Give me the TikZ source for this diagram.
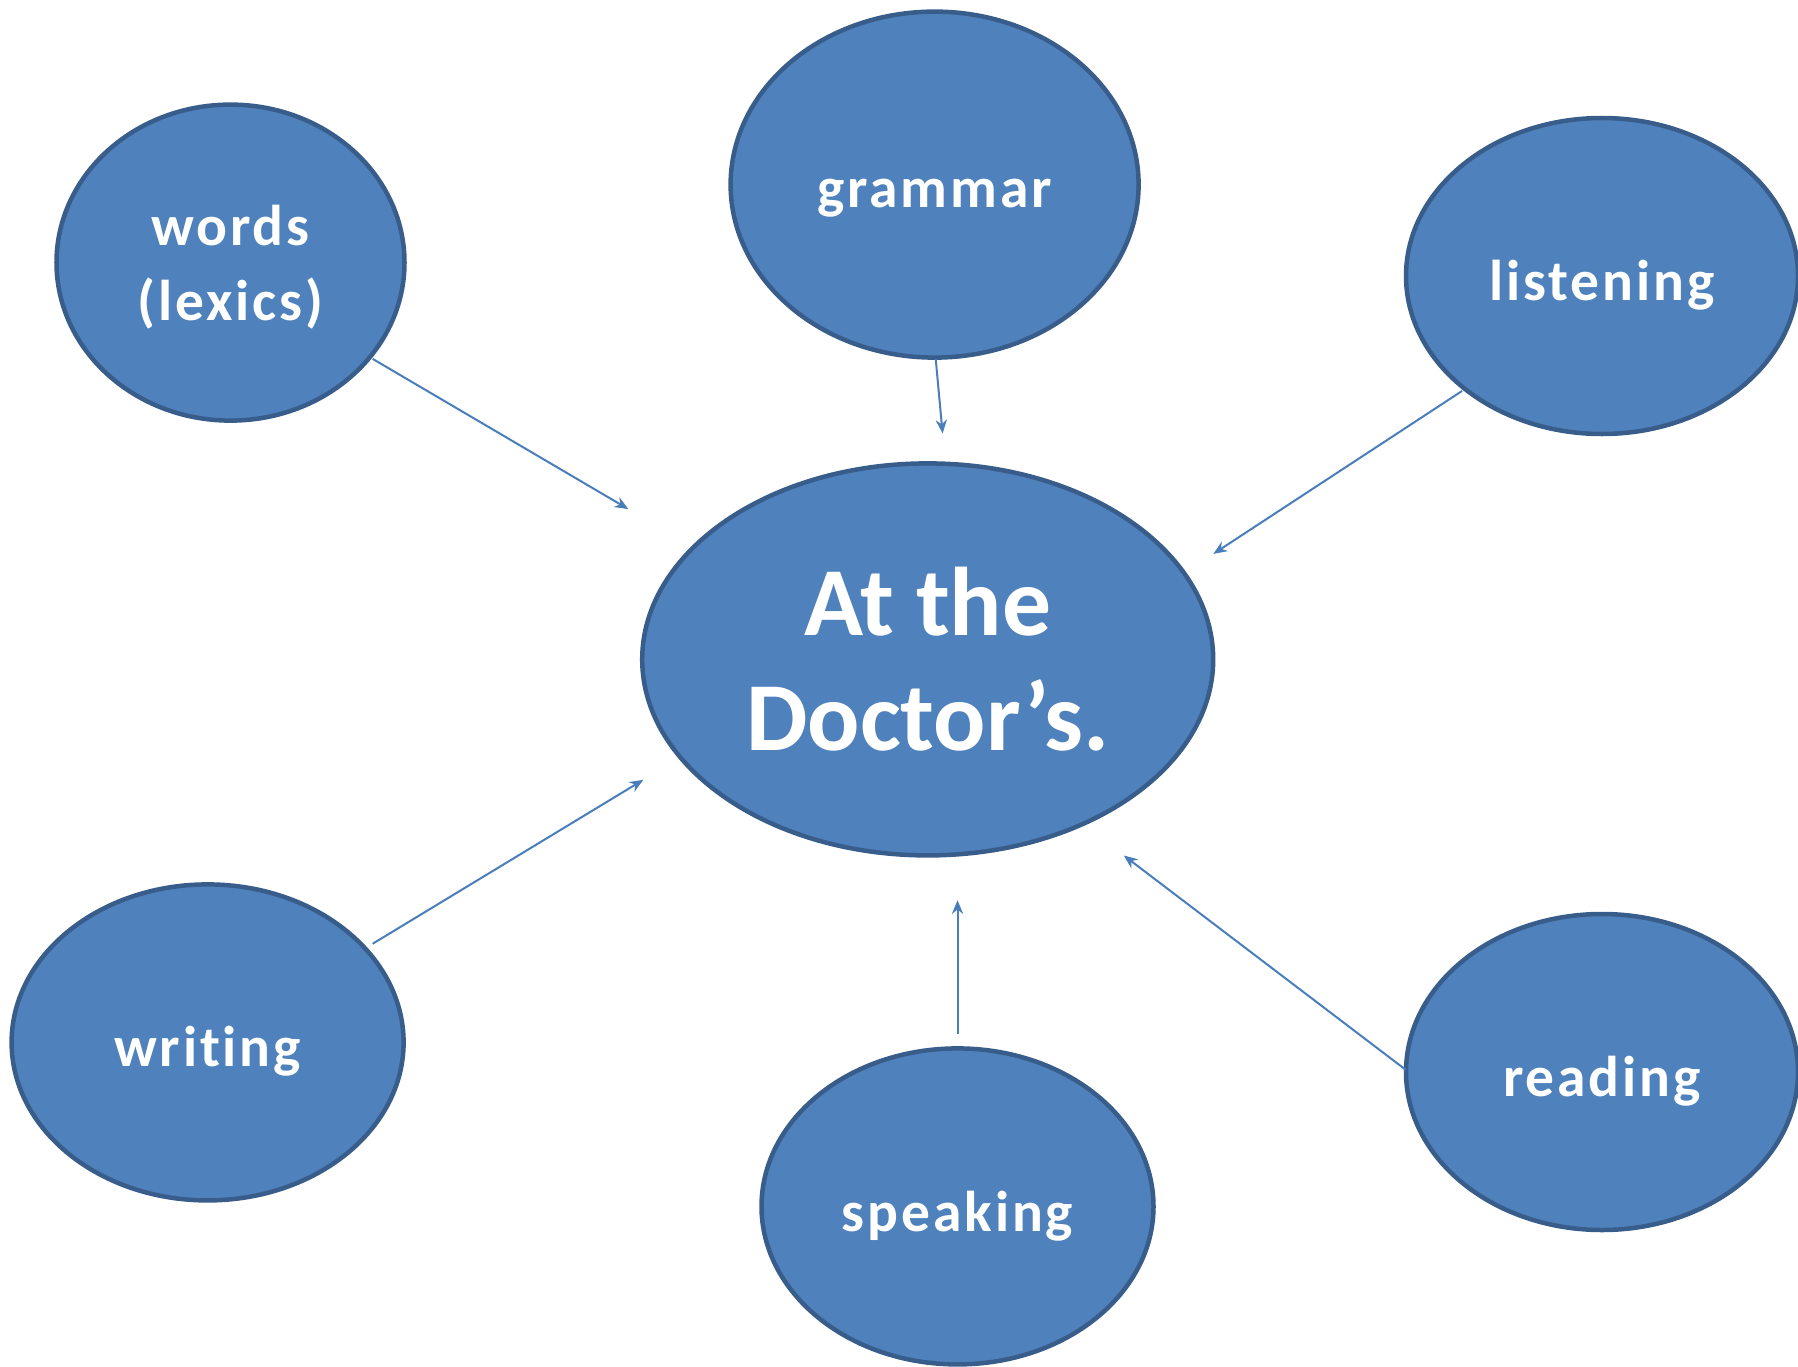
\documentclass[tikz,border=0pt]{standalone}
\usepackage{fontspec}
\setmainfont{Carlito}[Ligatures=NoCommon]
\newfontfamily\spacedfont{Carlito}[Ligatures=NoCommon,LetterSpace=5]
\usetikzlibrary{shapes.geometric,arrows.meta}
\definecolor{bubblefill}{HTML}{4F81BD}
\definecolor{bubbleline}{HTML}{385D8A}
\definecolor{arrowcol}{HTML}{4A7EBB}
\newcommand{\lowerby}[2]{\raisebox{-#1}[\height][\depth]{#2}}
\tikzset{
  bubble/.style={ellipse, draw=bubbleline, fill=bubblefill, line width=1.8pt, inner sep=0pt,
    text=white, font=\spacedfont\bfseries\fontsize{23}{30}\selectfont, align=center},
  link/.style={draw=arrowcol, line width=0.8pt, -{Stealth[length=5.5pt,width=4.5pt]}}
}
\begin{document}
\begin{tikzpicture}[x=0.4pt,y=-0.4pt]
\useasboundingbox (0,0) rectangle (1798,1366);
\node[bubble, minimum width=139.2pt, minimum height=126.4pt] (words) at (230.5,262.6) {\lowerby{2pt}{words}\\\lowerby{2pt}{(lexics)}};
\node[bubble, minimum width=163.2pt, minimum height=138.4pt] (grammar) at (934.6,184.6) {\lowerby{5.6pt}{grammar}};
\node[bubble, minimum width=156.8pt, minimum height=126.4pt] (listening) at (1602,276) {\lowerby{3.5pt}{listening}};
\node[bubble, minimum width=228.4pt, minimum height=156.8pt, font=\bfseries\fontsize{39}{46}\selectfont] (center) at (927.7,659.4) {At the\\Doctor’s.};
\node[bubble, minimum width=156.8pt, minimum height=126.4pt] (writing) at (207.6,1042.4) {\lowerby{3.5pt}{writing}};
\node[bubble, minimum width=156.8pt, minimum height=126.4pt] (speaking) at (957.5,1206.4) {\lowerby{4pt}{speaking}};
\node[bubble, minimum width=156.8pt, minimum height=126.4pt] (reading) at (1602,1072) {\lowerby{3.5pt}{reading}};
\coordinate (wS) at (372.7,358.9);  \coordinate (wE) at (628.4,509.1);
\coordinate (gS) at (935.7,358.9);  \coordinate (gE) at (942.6,433.5);
\coordinate (lS) at (1462,391);     \coordinate (lE) at (1213.3,553.9);
\coordinate (rS) at (372.7,943.7);  \coordinate (rE) at (643.3,779.8);
\coordinate (sS) at (957.5,1034.3); \coordinate (sE) at (957.5,900.2);
\coordinate (dS) at (1405.9,1069.9);\coordinate (dE) at (1123.8,855.5);
\draw[link] (wS) -- (wE);
\draw[link] (gS) -- (gE);
\draw[link] (lS) -- (lE);
\draw[link] (rS) -- (rE);
\draw[link] (sS) -- (sE);
\draw[link] (dS) -- (dE);
\end{tikzpicture}
\end{document}
